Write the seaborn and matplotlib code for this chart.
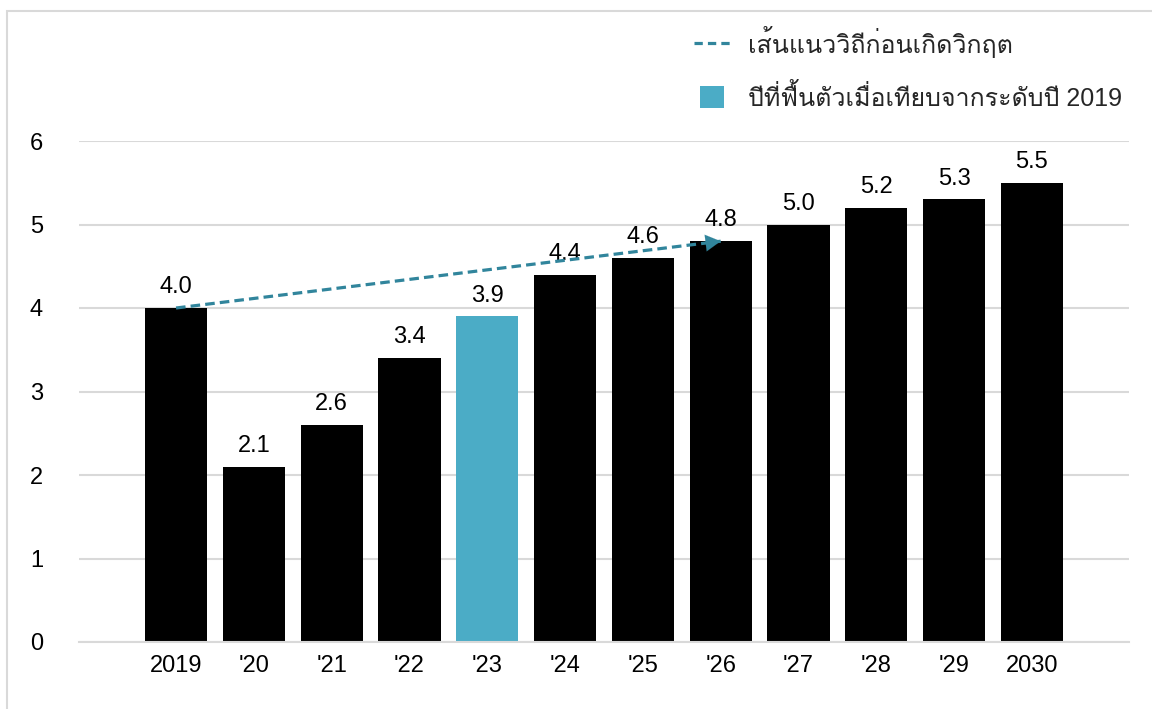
import matplotlib
matplotlib.use("Agg")
import matplotlib.pyplot as plt
from matplotlib import font_manager
from matplotlib.ft2font import FT2Font
from matplotlib.lines import Line2D
from matplotlib.patches import Patch, Rectangle
from matplotlib.legend_handler import HandlerPatch
import seaborn as sns
import pandas as pd

# Data
categories = ["2019", "'20", "'21", "'22", "'23", "'24", "'25", "'26", "'27", "'28", "'29", "2030"]
values = [4.0, 2.1, 2.6, 3.4, 3.9, 4.4, 4.6, 4.8, 5.0, 5.2, 5.3, 5.5]
recovery_year = "'23"
trend_x = ["2019", "'26"]
trend_y = [4.0, 4.8]
yticks = [0, 1, 2, 3, 4, 5, 6]
legend_labels = ["เส้นแนววิถีก่อนเกิดวิกฤต", "ปีที่ฟื้นตัวเมื่อเทียบจากระดับปี 2019"]

BAR = "#000000"
HIGHLIGHT = "#4BACC6"
TREND = "#31859C"
GRID = "#D9D9D9"

sns.set_theme(style="white")


def find_thai_font():
    seen = set()
    for f in font_manager.fontManager.ttflist:
        if f.name in seen:
            continue
        try:
            cmap = FT2Font(f.fname).get_charmap()
        except Exception:
            continue
        if 0x0E40 in cmap and 0x0E01 in cmap:
            return f.name
        seen.add(f.name)
    return None


thai = find_thai_font()
families = ["Liberation Sans"] + ([thai] if thai else []) + ["DejaVu Sans"]
plt.rcParams["font.family"] = families

df = pd.DataFrame({"year": categories, "value": values})
palette = {c: (HIGHLIGHT if c == recovery_year else BAR) for c in categories}

fig = plt.figure(figsize=(11.52, 7.09), dpi=100)
W, H = 1152, 709
ax = fig.add_axes([79 / W, (H - 642) / H, (1129 - 79) / W, (642 - 141) / H])

sns.barplot(data=df, x="year", y="value", hue="year", palette=palette,
            width=0.8, legend=False, ax=ax, saturation=1, linewidth=0)

for cont in ax.containers:
    ax.bar_label(cont, fmt="%.1f", padding=7, fontsize=17, color="#000000")

# Pre-crisis trend arrow
xi = [categories.index(c) for c in trend_x]
ax.plot(xi, trend_y, color=TREND, lw=2.3, ls=(0, (3.0, 1.6)), zorder=4)
ax.annotate("", xy=(xi[1], trend_y[1]),
            xytext=(xi[1] - 0.25, trend_y[0] + (trend_y[1] - trend_y[0]) * (1 - 0.25 / (xi[1] - xi[0]))),
            arrowprops=dict(arrowstyle="-|>,head_length=0.9,head_width=0.5",
                            color=TREND, lw=0.1, shrinkA=0, shrinkB=0), zorder=5)

ax.set_xlim(-1.247, 12.247)
ax.set_ylim(0, 6)
ax.set_yticks(yticks)
ax.set_xlabel("")
ax.set_ylabel("")
ax.grid(axis="y", color=GRID, lw=1.5)
ax.set_axisbelow(True)
for s in ["top", "right", "left"]:
    ax.spines[s].set_visible(False)
ax.spines["bottom"].set_color(GRID)
ax.spines["bottom"].set_linewidth(1.5)
ax.tick_params(axis="y", length=0, pad=26, labelsize=17, labelcolor="#000000")
ax.tick_params(axis="x", length=0, pad=9.5, labelsize=17, labelcolor="#000000")


class SquareHandler(HandlerPatch):
    def create_artists(self, legend, orig_handle, xdescent, ydescent, width, height, fontsize, trans):
        side = height * 1.05
        p = Rectangle((-xdescent + 4, -ydescent), side * 1.1, side,
                      facecolor=orig_handle.get_facecolor(), edgecolor="none", transform=trans)
        return [p]


handles = [Line2D([0], [0], color=TREND, lw=2.3, ls=(0, (2.6, 1.6))),
           Patch(facecolor=HIGHLIGHT)]
leg = fig.legend(handles, legend_labels, loc="upper left",
                 bbox_to_anchor=(694 / W, 1 - 26 / H), frameon=False, fontsize=18,
                 handlelength=1.6, handleheight=0.95, handletextpad=0.55,
                 labelspacing=1.05, borderaxespad=0, borderpad=0,
                 handler_map={Patch: SquareHandler()})

# Frame around the figure
fig.add_artist(Rectangle((6.5 / W, -0.1), 1.2, (H - 10.5) / H + 0.1, fill=False,
                         edgecolor=GRID, lw=1.5, transform=fig.transFigure))

fig.savefig("out.png", dpi=100)
